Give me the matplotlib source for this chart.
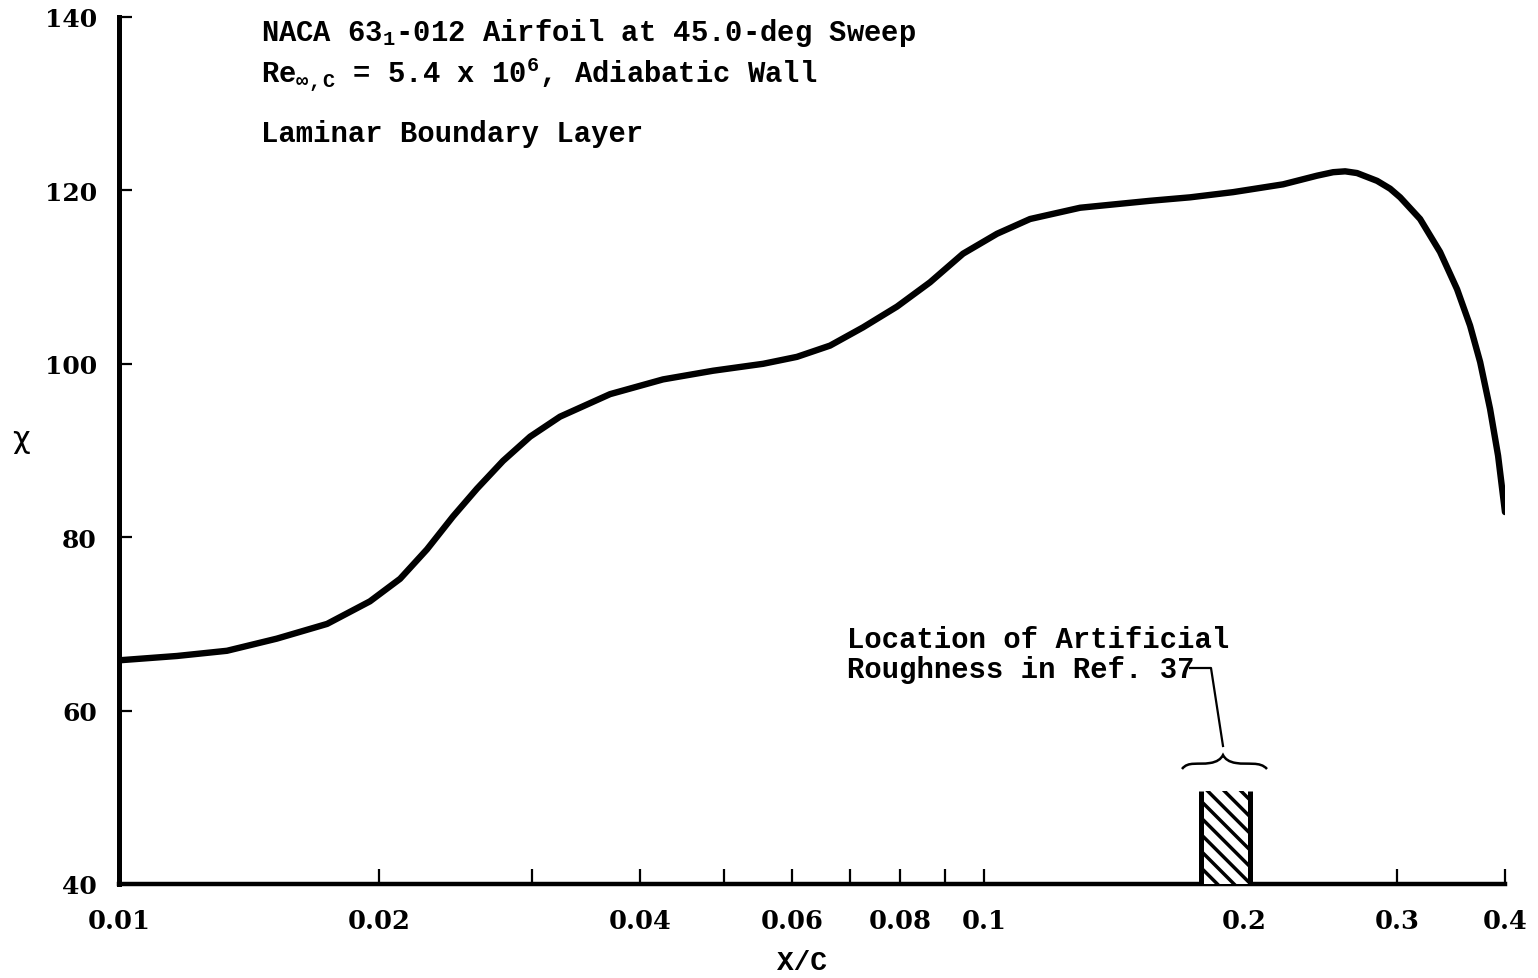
import matplotlib.pyplot as plt
import matplotlib.ticker as mticker
from matplotlib.patches import Rectangle, PathPatch
from matplotlib.path import Path

# chi vs X/C
x_c = [0.0100, 0.01167, 0.01333, 0.01522, 0.0174, 0.0195, 0.02113, 0.0227, 0.02433,
       0.02593, 0.02779, 0.02987, 0.03234, 0.03695, 0.04254, 0.0486, 0.05553, 0.06076,
       0.06636, 0.07244, 0.07931, 0.08659, 0.09454, 0.1035, 0.1130, 0.1291, 0.1555,
       0.1730, 0.1940, 0.2216, 0.2426, 0.2532, 0.2614, 0.2698, 0.2846, 0.2946, 0.3026,
       0.3191, 0.3365, 0.3521, 0.3645, 0.3744, 0.3844, 0.3927, 0.400]
chi = [65.8, 66.3, 66.9, 68.3, 70.0, 72.6, 75.2, 78.6, 82.4,
       85.6, 88.8, 91.6, 93.9, 96.5, 98.2, 99.2, 100.0, 100.8,
       102.1, 104.2, 106.6, 109.4, 112.7, 115.0, 116.7, 118.0, 118.8,
       119.2, 119.8, 120.7, 121.7, 122.1, 122.2, 122.0, 121.1, 120.2, 119.2,
       116.7, 112.9, 108.6, 104.4, 100.2, 94.8, 89.4, 82.9]

xtick_vals = [0.01, 0.02, 0.04, 0.06, 0.08, 0.1, 0.2, 0.3, 0.4]
xtick_labels = ['0.01', '0.02', '0.04', '0.06', '0.08', '0.1', '0.2', '0.3', '0.4']
xminor_vals = [0.03, 0.05, 0.07, 0.09]
ytick_vals = [40, 60, 80, 100, 120, 140]

# roughness strip location (Ref. 37)
rough_x = [0.178, 0.203]
rough_top = 50.7

plt.rcParams['font.family'] = 'DejaVu Serif'
plt.rcParams['font.weight'] = 'bold'
plt.rcParams['hatch.linewidth'] = 2.5
plt.rcParams['hatch.color'] = 'black'
plt.rcParams['mathtext.fontset'] = 'custom'
plt.rcParams['mathtext.rm'] = 'Liberation Mono:bold'
plt.rcParams['mathtext.it'] = 'Liberation Mono:bold'
plt.rcParams['mathtext.bf'] = 'Liberation Mono:bold'
plt.rcParams['mathtext.default'] = 'rm'

W, H = 1538, 979
fig = plt.figure(figsize=(W / 100, H / 100), dpi=100)
ax = fig.add_axes([119 / W, 94 / H, 1386 / W, 867 / H])

ax.plot(x_c, chi, color='black', lw=4.6, solid_capstyle='round',
        solid_joinstyle='round', zorder=3)

ax.set_xscale('log')
ax.set_xlim(0.01, 0.4)
ax.set_ylim(40, 140)
ax.set_xticks(xtick_vals)
ax.set_xticklabels(xtick_labels)
ax.set_xticks(xminor_vals, minor=True)
ax.xaxis.set_minor_formatter(mticker.NullFormatter())
ax.set_yticks(ytick_vals)

ax.tick_params(axis='x', which='both', direction='in', length=11, width=1.6,
               pad=17, labelsize=18.5)
ax.tick_params(axis='y', direction='in', length=9, width=1.6, pad=16, labelsize=18)

for s in ['top', 'right']:
    ax.spines[s].set_visible(False)
ax.spines['left'].set_linewidth(3.6)
ax.spines['bottom'].set_linewidth(3.2)

# hatched roughness strip
ax.add_patch(Rectangle((rough_x[0], 40), rough_x[1] - rough_x[0], rough_top - 40,
                       facecolor='white', edgecolor='black', linewidth=0,
                       hatch='\\\\', zorder=4))
ax.vlines(rough_x, 40, rough_top, colors='black', lw=3.6, zorder=5)


def px(x, y):
    # pixel position on the page -> axes fraction
    return ((x - 119) / 1386, (885 - y) / 867)


# curly brace over the strip
brace = [px(1182, 770), px(1188, 762), px(1198, 766), px(1210, 764),
         px(1217, 763), px(1221, 760), px(1223, 756),
         px(1225, 760), px(1229, 763), px(1236, 764),
         px(1248, 766), px(1260, 762), px(1267, 770)]
codes = [Path.MOVETO] + [Path.CURVE4] * 12
ax.add_patch(PathPatch(Path(brace, codes), transform=ax.transAxes,
                       facecolor='none', edgecolor='black', lw=1.8, zorder=5))

# leader line
lead = [px(1190, 669), px(1211, 669), px(1223, 747)]
ax.plot([p[0] for p in lead], [p[1] for p in lead], transform=ax.transAxes,
        color='black', lw=1.6)

mono = dict(family='Liberation Mono', weight='bold', size=20.8, color='black')
ax.text(*px(847, 648), 'Location of Artificial', transform=ax.transAxes,
        va='baseline', **mono)
ax.text(*px(847, 678), 'Roughness in Ref. 37', transform=ax.transAxes,
        va='baseline', **mono)

fig.text(261 / W, 1 - 41 / H, r'NACA 63$_1$-012 Airfoil at 45.0-deg Sweep',
         va='baseline', **mono)
fig.text(261 / W, 1 - 83 / H, r'Re$_{\infty,C}$ = 5.4 x 10$^6$, Adiabatic Wall',
         va='baseline', **mono)
fig.text(261 / W, 1 - 142 / H, 'Laminar Boundary Layer', va='baseline', **mono)

fig.text(802 / W, 1 - 963 / H, 'X/C', ha='center', va='center',
         family='Liberation Mono', weight='bold', size=20)
fig.text(12 / W, 1 - 440 / H, 'χ', va='center', family='DejaVu Sans',
         weight='normal', size=22)

fig.savefig('out.png', dpi=100)
